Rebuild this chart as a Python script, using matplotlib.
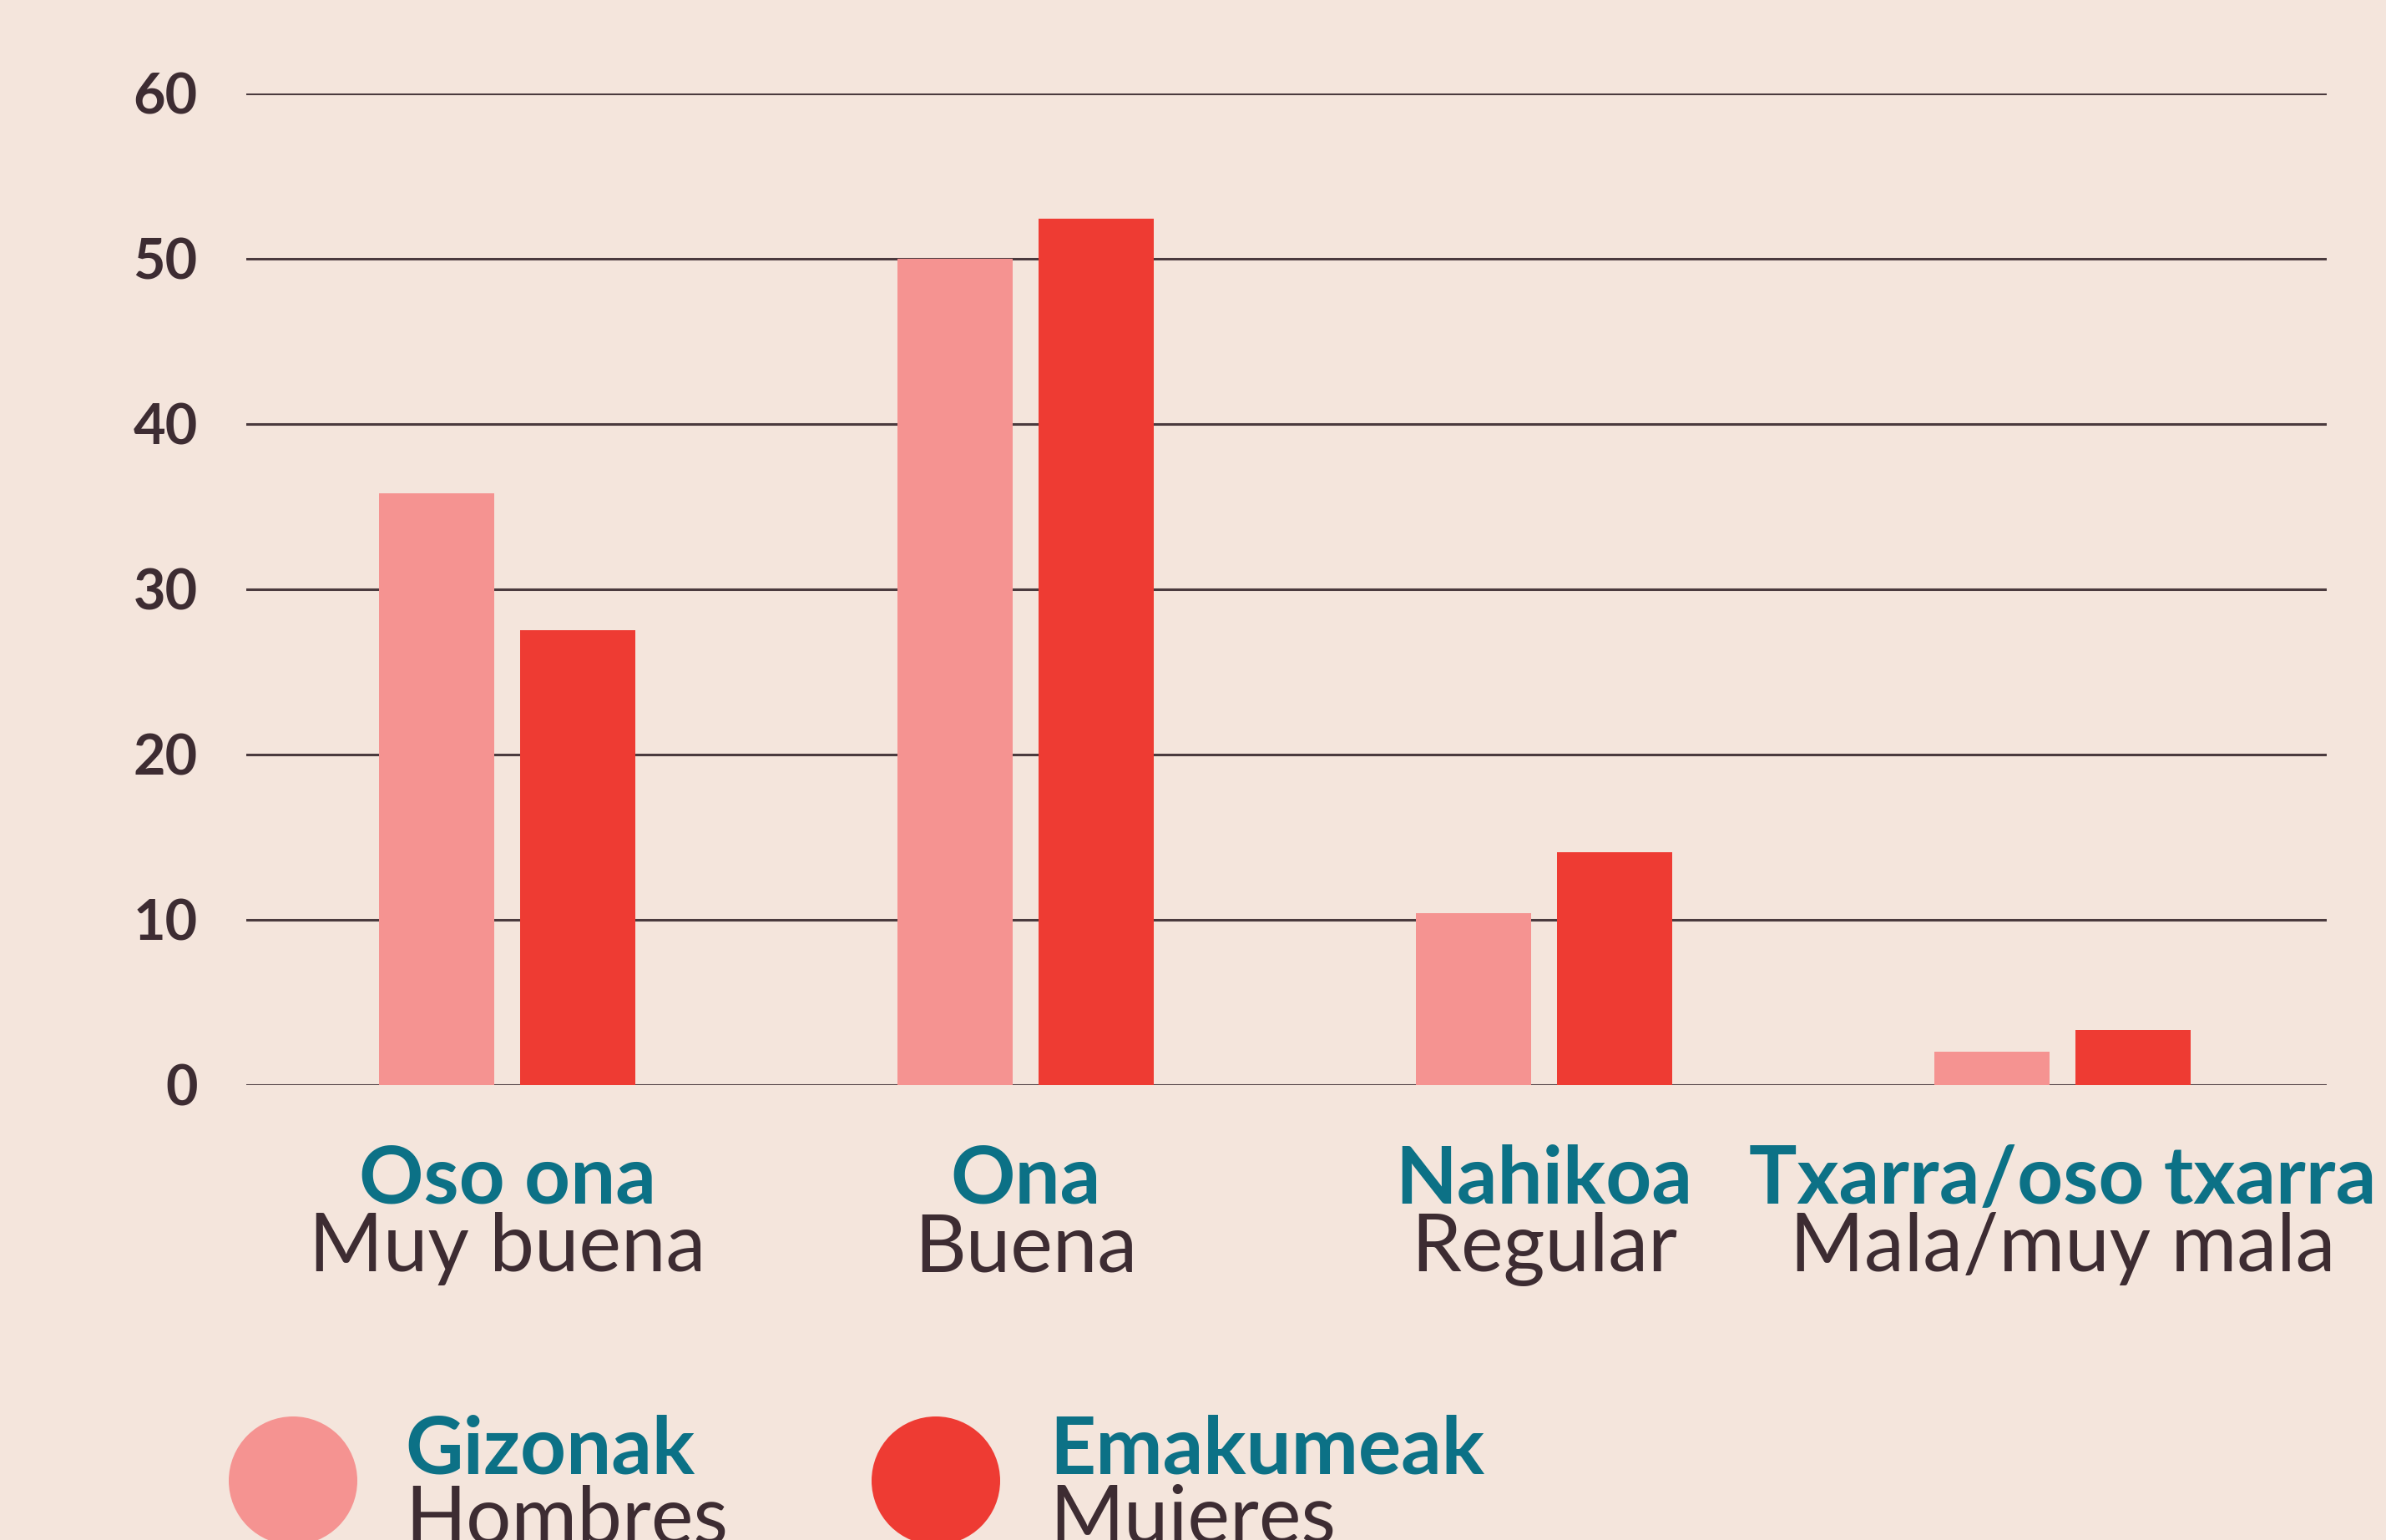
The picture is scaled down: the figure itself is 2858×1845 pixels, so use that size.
import numpy as np
import matplotlib.pyplot as plt
from matplotlib.patches import Circle
from matplotlib.transforms import blended_transform_factory

BG = "#f4e5dc"
INK = "#3d2c32"
TEAL = "#0c7186"
PINK = "#f59391"
RED = "#ee3b33"
FONT = "Lato"

# data
cats_eu = ["Oso ona", "Ona", "Nahikoa", "Txarra/oso txarra"]
cats_es = ["Muy buena", "Buena", "Regular", "Mala/muy mala"]
gizonak = [35.8, 50.0, 10.4, 2.0]
emakumeak = [27.5, 52.4, 14.1, 3.3]
yticks = [0, 10, 20, 30, 40, 50, 60]
series_eu = ["Gizonak", "Emakumeak"]
series_es = ["Hombres", "Mujeres"]

W, H = 2858, 1845
fig = plt.figure(figsize=(W / 100, H / 100), dpi=100, facecolor=BG)
ax = fig.add_axes([0.1032, 0.29555, 0.8720, 0.64391])
ax.set_facecolor(BG)

x = np.arange(len(cats_eu))
bw = 0.2223
off = 0.136
ax.bar(x - off, gizonak, width=bw, color=PINK, zorder=3)
ax.bar(x + off, emakumeak, width=bw, color=RED, zorder=3)

for t in yticks:
    ax.axhline(t, color="#4a3a3e", lw=2.2, zorder=1)

ax.set_xlim(-0.504, 3.510)
ax.set_ylim(0, 60)
ax.set_yticks(yticks)
ax.set_yticklabels([str(t) for t in yticks], fontsize=48, fontweight="bold",
                   color=INK, fontfamily=FONT)
ax.tick_params(axis="y", length=0, pad=42)
ax.set_xticks([])
for sp in ax.spines.values():
    sp.set_visible(False)

# category labels (two languages)
tr = blended_transform_factory(ax.transData, fig.transFigure)
for i in range(len(cats_eu)):
    ax.text(x[i], 1 - 1442 / H, cats_eu[i], transform=tr, ha="center",
            va="baseline", fontsize=69, fontweight="bold", color=TEAL,
            fontfamily=FONT)
    ax.text(x[i], 1 - 1523 / H, cats_es[i], transform=tr, ha="center",
            va="baseline", fontsize=69, color=INK, fontfamily=FONT)

# legend drawn in pixel coords
lax = fig.add_axes([0, 0, 1, 1], zorder=-1)
lax.set_xlim(0, W)
lax.set_ylim(H, 0)
lax.axis("off")
for cx, tx, col, eu, es in zip([351, 1121], [485, 1257], [PINK, RED],
                               series_eu, series_es):
    lax.add_patch(Circle((cx, 1774), 77, color=col, lw=0))
    lax.text(tx, 1766, eu, ha="left", va="baseline", fontsize=69,
             fontweight="bold", color=TEAL, fontfamily=FONT)
    lax.text(tx, 1849, es, ha="left", va="baseline", fontsize=69,
             color=INK, fontfamily=FONT)

fig.savefig("out.png", dpi=100, facecolor=BG)
